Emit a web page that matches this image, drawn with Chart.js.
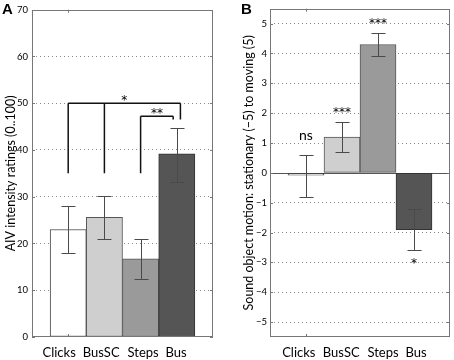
<!DOCTYPE html>
<html><head><meta charset="utf-8">
<script src="https://cdn.jsdelivr.net/npm/chart.js@4.4.1/dist/chart.umd.min.js"></script>
<style>
html,body{margin:0;padding:0;background:#fff;}
#wrap{position:relative;width:454px;height:360px;overflow:hidden;background:#fff;}
canvas{position:absolute;top:0;}
.letter{position:absolute;font:bold 15px "Liberation Sans",Arial,sans-serif;color:#000;line-height:15px;}
</style></head>
<body>
<div id="wrap">
  <canvas id="cA" width="227" height="360" style="left:0;width:227px;height:360px"></canvas>
  <canvas id="cB" width="227" height="360" style="left:227px;width:227px;height:360px"></canvas>
  <div class="letter" style="left:2px;top:1px">A</div>
  <div class="letter" style="left:241px;top:1px">B</div>
</div>
<script>
// ---- data ----
const categories = ['Clicks', 'BusSC', 'Steps', 'Bus'];
const barColors = ['#ffffff', '#cfcfcf', '#9a9a9a', '#555555'];

const intensityMeans = [23.0, 25.6, 16.7, 39.2];
const intensityLow   = [18.0, 21.0, 12.3, 33.2];
const intensityHigh  = [28.0, 30.1, 21.0, 44.8];
const intensityTicks = [0, 10, 20, 30, 40, 50, 60, 70];

const motionMeans = [-0.08, 1.2, 4.3, -1.9];
const motionLow   = [-0.8, 0.7, 3.9, -2.6];
const motionHigh  = [0.6, 1.7, 4.7, -1.2];
const motionTicks = [-5, -4, -3, -2, -1, 0, 1, 2, 3, 4, 5];
const motionSig   = ['ns', '***', '***', '*'];

// significance brackets (panel A), in category-index / value units
const bracketStar = { label: '*',  level: 50,   from: 1, to: 4.1, drops: [1, 2], dropTo: 35, endTo: 46.5 };
const bracketDbl  = { label: '**', level: 47.2, from: 3, to: 3.9, drops: [3],    dropTo: 35, endTo: 46.5 };

const paddedLabels = [''].concat(categories, ['']);
const pad = arr => [null].concat(arr, [null]);

const FONT = 'Lato, "Noto Sans", sans-serif';
const STARFONT = '12px "DejaVu Sans", sans-serif';

function errorPlugin(name, lows, highs, extra) {
  return {
    id: 'err' + name,
    beforeDatasetsDraw(chart) {
      const { ctx, chartArea: a, scales: { y } } = chart;
      if (extra.zeroLine) {
        const py = Math.round(y.getPixelForValue(0)) + 0.5;
        ctx.save();
        ctx.strokeStyle = '#555'; ctx.lineWidth = 1;
        ctx.beginPath(); ctx.moveTo(a.left, py); ctx.lineTo(a.right, py); ctx.stroke();
        ctx.restore();
      }
    },
    afterDatasetsDraw(chart) {
      const { ctx, chartArea: a, scales: { x, y } } = chart;
      ctx.save();
      ctx.strokeStyle = '#4a4a4a'; ctx.lineWidth = 1;
      for (let i = 0; i < lows.length; i++) {
        const px = Math.round(x.getPixelForValue(i + 1)) + 0.5;
        const lo = Math.round(y.getPixelForValue(lows[i])) + 0.5;
        const hi = Math.round(y.getPixelForValue(highs[i])) + 0.5;
        ctx.beginPath();
        ctx.moveTo(px, lo); ctx.lineTo(px, hi);
        ctx.moveTo(px - 7, lo); ctx.lineTo(px + 7, lo);
        ctx.moveTo(px - 7, hi); ctx.lineTo(px + 7, hi);
        ctx.stroke();
      }
      // box
      ctx.strokeStyle = '#777';
      ctx.strokeRect(Math.round(a.left) + 0.5, Math.round(a.top) + 0.5,
        Math.round(a.right - a.left) - 1, Math.round(a.bottom - a.top) - 1);
      // inward ticks
      ctx.beginPath();
      y.ticks.forEach(t => {
        const py = Math.round(y.getPixelForValue(t.value)) + 0.5;
        ctx.moveTo(a.left, py); ctx.lineTo(a.left + 3, py);
        ctx.moveTo(a.right - 3, py); ctx.lineTo(a.right, py);
      });
      const tx = Math.round(x.getPixelForValue(1)) + 0.5;
      ctx.moveTo(tx, a.top); ctx.lineTo(tx, a.top + 3);
      ctx.moveTo(tx, a.bottom); ctx.lineTo(tx, a.bottom - 3);
      ctx.stroke();

      ctx.fillStyle = '#000';
      ctx.textAlign = 'center';
      ctx.textBaseline = 'alphabetic';
      // category labels under the axis
      ctx.font = '13px ' + FONT;
      categories.forEach((c, i) => {
        ctx.fillText(c, x.getPixelForValue(extra.labelSlots[i]), a.bottom + 20);
      });
      if (extra.brackets) {
        ctx.strokeStyle = '#111'; ctx.lineWidth = 1.5;
        extra.brackets.forEach(b => {
          const yl = y.getPixelForValue(b.level);
          const x0 = x.getPixelForValue(b.from), x1 = x.getPixelForValue(b.to);
          ctx.beginPath();
          ctx.moveTo(x0, yl); ctx.lineTo(x1, yl);
          b.drops.forEach(d => {
            const xd = x.getPixelForValue(d);
            ctx.moveTo(xd, yl); ctx.lineTo(xd, y.getPixelForValue(b.dropTo));
          });
          ctx.moveTo(x1, yl); ctx.lineTo(x1, y.getPixelForValue(b.endTo));
          ctx.stroke();
          ctx.font = STARFONT;
          ctx.fillText(b.label, (x0 + x1) / 2, yl + 1);
        });
      }
      if (extra.sig) {
        extra.sig.forEach((s, i) => {
          const px = x.getPixelForValue(i + 1);
          if (s === 'ns') {
            ctx.font = '14px ' + FONT;
            ctx.fillText(s, px, y.getPixelForValue(highs[i]) - 15);
          } else if (motionMeans[i] >= 0) {
            ctx.font = STARFONT;
            ctx.fillText(s, px, y.getPixelForValue(highs[i]) - 6);
          } else {
            ctx.font = STARFONT;
            ctx.fillText(s, px, y.getPixelForValue(lows[i]) + 17);
          }
        });
      }
      ctx.restore();
    }
  };
}

function makeChart(id, cfg) {
  return new Chart(document.getElementById(id), {
    type: 'bar',
    data: {
      labels: paddedLabels,
      datasets: [{
        data: pad(cfg.means),
        backgroundColor: pad(barColors),
        borderColor: ['#444', '#444', '#555', '#555', '#333', '#444'],
        borderWidth: 1,
        borderSkipped: false,
        categoryPercentage: 1,
        barPercentage: 1
      }]
    },
    options: {
      responsive: false,
      animation: false,
      devicePixelRatio: 1,
      layout: { padding: { top: 5, right: cfg.rightPad, left: 0, bottom: 0 } },
      plugins: { legend: { display: false }, tooltip: { enabled: false } },
      scales: {
        x: {
          type: 'category',
          offset: false,
          grid: { display: false },
          border: { display: false },
          afterFit: s => { s.height = 23; },
          ticks: { display: false }
        },
        y: {
          min: cfg.min, max: cfg.max,
          afterFit: s => { s.width = cfg.axisWidth; },
          afterBuildTicks: s => { s.ticks = cfg.ticks.map(v => ({ value: v })); },
          grid: {
            drawTicks: false,
            color: c => (c.tick && (c.tick.value === cfg.min || c.tick.value === cfg.max || c.tick.value === 0)) ? 'rgba(0,0,0,0)' : '#8a8a8a',
            lineWidth: 1
          },
          border: { display: false, dash: [1, 3] },
          ticks: {
            padding: cfg.tickPad, color: '#000',
            font: { family: FONT, size: 9.5 },
            callback: v => v < 0 ? '\u2212' + Math.abs(v) : String(v)
          },
          title: {
            display: true, text: cfg.title, color: '#000',
            font: { family: FONT, size: 12.5 },
            padding: { top: cfg.titlePad, bottom: 0 }
          }
        }
      }
    },
    plugins: [errorPlugin(id, cfg.low, cfg.high, cfg.extra)]
  });
}

makeChart('cA', {
  means: intensityMeans, low: intensityLow, high: intensityHigh,
  min: 0, max: 70, ticks: intensityTicks, axisWidth: 32, rightPad: 14, tickPad: 4, titlePad: 3,
  title: 'AIV intensity ratings (0..100)',
  extra: { brackets: [bracketStar, bracketDbl], labelSlots: [0.75, 1.91, 3.07, 3.98] }
});
makeChart('cB', {
  means: motionMeans, low: motionLow, high: motionHigh,
  min: -5.5, max: 5.5, ticks: motionTicks, axisWidth: 43, rightPad: 4, tickPad: 3, titlePad: 14,
  title: 'Sound object motion: stationary (\u22125) to moving (5)',
  extra: { zeroLine: true, sig: motionSig, labelSlots: [0.8, 1.98, 3.14, 4.06] }
});
</script>
</body></html>
